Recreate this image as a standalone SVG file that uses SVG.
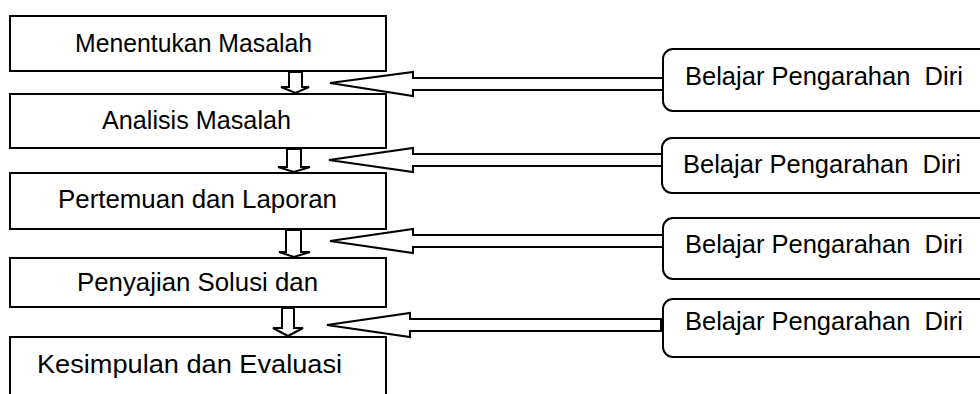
<svg xmlns="http://www.w3.org/2000/svg" width="980" height="394" viewBox="0 0 980 394">
  <style>
    .box { fill: #ffffff; stroke: #000000; stroke-width: 2; }
    .arrow { fill: #ffffff; stroke: #000000; stroke-width: 2; stroke-linejoin: miter; }
    .label { font-family: "Liberation Sans", Arial, sans-serif; font-size: 25.5px; fill: #000000; }
  </style>
  <rect x="0" y="0" width="980" height="394" fill="#ffffff"/>

  <!-- connectors: hollow block arrows -->
  <g id="connectors">
    <!-- downward flow between steps -->
    <polygon class="arrow" points="289,72 302,72 302,87 309,87 295.5,93 281,87 289,87"/>
    <polygon class="arrow" points="287,149 301,149 301,167 310,167 294,172 278,167 287,167"/>
    <polygon class="arrow" points="286,230 301,230 301,252 310,252 294,257 279,252 286,252"/>
    <polygon class="arrow" points="282,308 294,308 294,328 303,328 288,336 273,328 282,328"/>
    <!-- inputs from the right-hand boxes -->
    <polygon class="arrow" points="663,78 413,78 413,72 330,83 413,96 413,90 663,90"/>
    <polygon class="arrow" points="662,154 413,154 413,148 329,160 413,172 413,166 662,166"/>
    <polygon class="arrow" points="663,235 413,235 413,229 330,241 413,253 413,247 663,247"/>
    <polygon class="arrow" points="661,319 410,319 410,313 327,325 410,337 410,331 661,331"/>
  </g>

  <!-- process steps -->
  <g id="step1">
    <rect class="box" x="10" y="16" width="376" height="55"/>
    <text class="label" x="75" y="52" textLength="237" lengthAdjust="spacingAndGlyphs">Menentukan Masalah</text>
  </g>
  <g id="step2">
    <rect class="box" x="10" y="94" width="376" height="54"/>
    <text class="label" x="102" y="129" textLength="189" lengthAdjust="spacingAndGlyphs">Analisis Masalah</text>
  </g>
  <g id="step3">
    <rect class="box" x="10" y="173" width="376" height="56"/>
    <text class="label" x="58" y="208" textLength="279" lengthAdjust="spacingAndGlyphs">Pertemuan dan Laporan</text>
  </g>
  <g id="step4">
    <rect class="box" x="10" y="258" width="376" height="49"/>
    <text class="label" x="77" y="291" textLength="241" lengthAdjust="spacingAndGlyphs">Penyajian Solusi dan</text>
  </g>
  <g id="step5">
    <rect class="box" x="10" y="337" width="376" height="70"/>
    <text class="label" x="37" y="373" textLength="305" lengthAdjust="spacingAndGlyphs">Kesimpulan dan Evaluasi</text>
  </g>

  <!-- self-directed learning boxes -->
  <g id="sdl1">
    <rect class="box" x="663" y="49" width="340" height="62" rx="10" ry="10"/>
    <text class="label" x="685" y="85" xml:space="preserve">Belajar Pengarahan  Diri</text>
  </g>
  <g id="sdl2">
    <rect class="box" x="662" y="138" width="340" height="55" rx="10" ry="10"/>
    <text class="label" x="683" y="173" xml:space="preserve">Belajar Pengarahan  Diri</text>
  </g>
  <g id="sdl3">
    <rect class="box" x="663" y="218" width="340" height="61" rx="10" ry="10"/>
    <text class="label" x="685" y="253" xml:space="preserve">Belajar Pengarahan  Diri</text>
  </g>
  <g id="sdl4">
    <rect class="box" x="663" y="299" width="340" height="58" rx="10" ry="10"/>
    <text class="label" x="685" y="330" xml:space="preserve">Belajar Pengarahan  Diri</text>
  </g>
</svg>
